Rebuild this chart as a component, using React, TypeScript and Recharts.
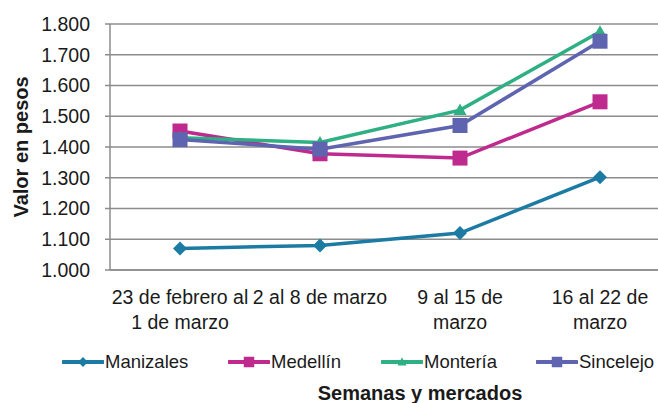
import { LineChart, Line, XAxis, YAxis, CartesianGrid, Legend } from "recharts";

const weeks = [
  "23 de febrero al 1 de marzo",
  "2 al 8 de marzo",
  "9 al 15 de marzo",
  "16 al 22 de marzo",
];
// how each week label breaks on the axis
const weekLines = [
  ["23 de febrero al", "1 de marzo"],
  ["2 al 8 de marzo"],
  ["9 al 15 de", "marzo"],
  ["16 al 22 de", "marzo"],
];
const manizales = [1070, 1080, 1120, 1302];
const medellin = [1452, 1378, 1364, 1547];
const monteria = [1430, 1415, 1520, 1775];
const sincelejo = [1424, 1393, 1470, 1744];
const yTicks = [1000, 1100, 1200, 1300, 1400, 1500, 1600, 1700, 1800];

const series = [
  { key: "Manizales", values: manizales, color: "#1b7ba3", shape: "diamond", size: 14 },
  { key: "Medellín", values: medellin, color: "#bf2a8e", shape: "square", size: 15 },
  { key: "Montería", values: monteria, color: "#2eaf84", shape: "triangle", size: 13 },
  { key: "Sincelejo", values: sincelejo, color: "#5e64b0", shape: "square", size: 15 },
];

const data = weeks.map((week, i) => {
  const row: Record<string, string | number> = { week };
  series.forEach((s) => (row[s.key] = s.values[i]));
  return row;
});

const FONT = "'Liberation Sans', Arial, sans-serif";
const TEXT = "#1a1a1a";
const GRID = "#8c8c8c";
const LEGEND_SLOTS = [166, 153, 155, 120];

function Marker({ cx, cy, shape, color, size }: any) {
  const h = size / 2;
  if (shape === "diamond")
    return <polygon points={`${cx},${cy - h} ${cx + h},${cy} ${cx},${cy + h} ${cx - h},${cy}`} fill={color} />;
  if (shape === "triangle")
    return <polygon points={`${cx},${cy - h} ${cx + h},${cy + h * 0.75} ${cx - h},${cy + h * 0.75}`} fill={color} />;
  return <rect x={cx - h} y={cy - h} width={size} height={size} fill={color} />;
}

function WeekTick({ x, y, payload }: any) {
  const lines = weekLines[weeks.indexOf(payload.value)] || [payload.value];
  return (
    <text x={x} y={y} textAnchor="middle" fill={TEXT} fontSize={19.5} fontFamily={FONT}>
      {lines.map((l, i) => (
        <tspan key={i} x={x} dy={i === 0 ? 26 : 25}>{l}</tspan>
      ))}
    </text>
  );
}

function LegendRow() {
  return (
    <div style={{ display: "flex", paddingLeft: 62, fontFamily: FONT, fontSize: 18.5, color: TEXT }}>
      {series.map((s, i) => (
        <div key={s.key} style={{ display: "flex", alignItems: "center", height: 24, width: LEGEND_SLOTS[i] }}>
          <svg width={42} height={18} style={{ marginRight: 1, flex: "none" }}>
            <line x1={1} y1={9} x2={41} y2={9} stroke={s.color} strokeWidth={4} strokeLinecap="round" />
            <Marker cx={21} cy={9} shape={s.shape} color={s.color} size={s.size * 0.7} />
          </svg>
          <span style={{ whiteSpace: "nowrap" }}>{s.key}</span>
        </div>
      ))}
    </div>
  );
}

export default function App() {
  return (
    <div style={{ position: "absolute", left: 0, top: 0, background: "#fff" }}>
      <LineChart width={658} height={403} data={data} margin={{ top: 24, right: 0, bottom: 0, left: 0 }}>
        <CartesianGrid vertical={false} stroke={GRID} strokeWidth={1.5} />
        <XAxis
          dataKey="week"
          height={133}
          padding={{ left: 70, right: 58 }}
          tickLine={false}
          axisLine={{ stroke: GRID, strokeWidth: 1.5 }}
          tick={<WeekTick />}
          interval={0}
          label={({ viewBox }: any) => (
            <text
              x={viewBox.x + viewBox.width / 2 + 36}
              y={viewBox.y + viewBox.height - 3}
              textAnchor="middle"
              fontFamily={FONT}
              fontWeight="bold"
              fontSize={20}
              fill={TEXT}
            >
              Semanas y mercados
            </text>
          )}
        />
        <YAxis
          width={110}
          domain={[1000, 1800]}
          ticks={yTicks}
          tickSize={5}
          tickMargin={15}
          tickLine={{ stroke: GRID, strokeWidth: 1.5 }}
          axisLine={{ stroke: GRID, strokeWidth: 1.5 }}
          tickFormatter={(v: number) => (v / 1000).toFixed(3)}
          tick={{ fill: TEXT, fontSize: 19.5, fontFamily: FONT }}
          label={({ viewBox }: any) => {
            const cx = viewBox.x + 21;
            const cy = viewBox.y + viewBox.height / 2;
            return (
              <text
                x={cx}
                y={cy}
                transform={`rotate(-90 ${cx} ${cy})`}
                textAnchor="middle"
                dominantBaseline="central"
                fontFamily={FONT}
                fontWeight="bold"
                fontSize={20}
                fill={TEXT}
              >
                Valor en pesos
              </text>
            );
          }}
        />
        <Legend
          layout="horizontal"
          verticalAlign="middle"
          align="center"
          wrapperStyle={{ left: 0, top: 350, width: 658 }}
          content={() => <LegendRow />}
        />
        {series.map((s) => (
          <Line
            key={s.key}
            dataKey={s.key}
            stroke={s.color}
            strokeWidth={3.5}
            isAnimationActive={false}
            dot={(p: any) => (
              <Marker key={`${s.key}-${p.index}`} cx={p.cx} cy={p.cy} shape={s.shape} color={s.color} size={s.size} />
            )}
            activeDot={false}
          />
        ))}
      </LineChart>
    </div>
  );
}
